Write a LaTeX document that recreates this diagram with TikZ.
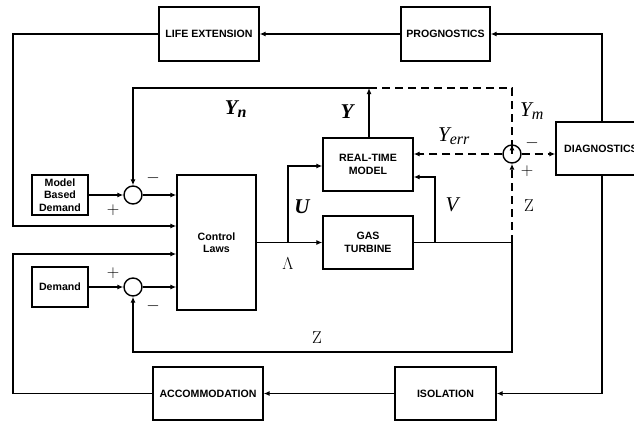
\documentclass[tikz,border=0pt]{standalone}
\usepackage[no-math]{fontspec}
\setmainfont{Liberation Sans}
\newfontfamily\lblfont{Liberation Serif}
\usetikzlibrary{arrows.meta}

\begin{document}
\begin{tikzpicture}[x=1pt, y=-1pt, line width=1.4pt,
  >={Latex[length=6pt,width=5pt]},
  block/.style={draw, align=center, inner sep=1pt, font=\fontsize{10.6}{12.5}\selectfont\bfseries},
  sumpt/.style={draw, circle, inner sep=0pt, minimum size=18pt},
  sig/.style={font=\fontsize{21}{24}\selectfont\lblfont\bfseries\itshape},
  sigthin/.style={font=\fontsize{21}{24}\selectfont\lblfont\itshape},
  sign/.style={font=\fontsize{17}{19}\selectfont},
  dsh/.style={dash pattern=on 8pt off 5pt}]
\clip (0,0) rectangle (634,423);

% Blocks
\node[block, minimum width=100pt, minimum height=54pt] (lifeext) at (209,34) {LIFE EXTENSION};
\node[block, minimum width=89pt, minimum height=54pt] (prog) at (445.5,34) {PROGNOSTICS};
\node[block, minimum width=90pt, minimum height=53pt] (diag) at (601,148.5) {DIAGNOSTICS};
\node[block, minimum width=90pt, minimum height=53pt] (rtm) at (368,164.5) {REAL-TIME\\MODEL};
\node[block, minimum width=90pt, minimum height=53pt] (gt) at (368,242.5) {GAS\\TURBINE};
\node[block, minimum width=79pt, minimum height=135pt] (ctrl) at (216.5,242.5) {Control\\Laws};
\node[block, minimum width=56pt, minimum height=40pt] (mbd) at (60,195) {Model\\Based\\Demand};
\node[block, minimum width=56pt, minimum height=40pt] (dem) at (60,287) {Demand};
\node[block, minimum width=101pt, minimum height=53pt] (isol) at (445.5,393.5) {ISOLATION};
\node[block, minimum width=110pt, minimum height=53pt] (accom) at (208,393.5) {ACCOMMODATION};

% Summing points
\node[sumpt] (sumA) at (133,195) {};
\node[sumpt] (sumB) at (133,287) {};
\node[sumpt] (sumC) at (512,154) {};

% Branch points
\coordinate (ytop) at (369,88);
\coordinate (usplit) at (288,242.5);
\coordinate (vsplit) at (435,242.5);
\coordinate (zsplit) at (512,242.5);
\coordinate (zlow) at (512,352);

% Outer loops
\draw[->] (prog.west) -- (lifeext.east);
\draw[->] (lifeext.west) -- (13,34) -- (13,226) -- (ctrl.west |- 0,226);
\draw[->] (diag.north -| 602,0) -- (602,34) -- (prog.east);
\draw[->] (diag.south -| 602,0) -- (602,393.5) -- (isol.east);
\draw[->] (isol.west) -- (accom.east);
\draw[->] (accom.west) -- (13,393.5) -- (13,254) -- (ctrl.west |- 0,254);

% Demand inputs
\draw[->] (mbd.east) -- (sumA.west);
\draw[->] (sumA.east) -- (ctrl.west |- sumA);
\draw[->] (dem.east) -- (sumB.west);
\draw[->] (sumB.east) -- (ctrl.west |- sumB);

% Plant and model
\draw[->] (ctrl.east) -- (gt.west);
\draw[->] (usplit) -- (288,166) -- (rtm.west |- 0,166);
\draw (gt.east) -- (zsplit);
\draw[->] (vsplit) -- (435,177) -- (rtm.east |- 0,177);
\draw[->] (rtm.north -| ytop) -- (ytop);
\draw[->] (ytop) -- (133,88) -- (sumA.north);
\draw[->] (zsplit) -- (zlow) -- (133,352) -- (sumB.south);

% Residual
\draw[dsh] (ytop) -- (512,88) -- ([yshift=-9pt]sumC.north);
\draw[->] ([yshift=-9pt]sumC.north) -- (sumC.north);
\draw[dsh, ->] (zsplit) -- (sumC.south);
\draw[dsh, ->] (sumC.west) -- (rtm.east |- sumC);
\draw[dsh, ->] (sumC.east) -- (diag.west |- sumC);

% Signal labels
\node[sig] (lblyn) at (236,109) {Y\textsubscript{\fontsize{16}{18}\selectfont n}};
\node[sig] (lbly) at (347,112) {Y};
\node[sigthin] (lblym) at (532,111) {Y\textsubscript{\fontsize{16}{18}\selectfont m}};
\node[sigthin] (lblyerr) at (454,136) {Y\textsubscript{\fontsize{16}{18}\selectfont err}};
\node[sig] (lblu) at (302,207) {U};
\node[sigthin] (lblv) at (452,205) {V};
\node[font=\fontsize{19}{22}\selectfont] (lbllam) at (288,264) {$\Lambda$};
\node[font=\fontsize{19}{22}\selectfont] (lblz) at (529,206) {$\mathrm{Z}$};
\node[font=\fontsize{19}{22}\selectfont] (lblzb) at (317,338) {$\mathrm{Z}$};

% Signs
\node[sign] (sAm) at (153,178) {$-$};
\node[sign] (sAp) at (113,210) {$+$};
\node[sign] (sBp) at (113,273) {$+$};
\node[sign] (sBm) at (153,306) {$-$};
\node[sign] (sCm) at (532,143) {$-$};
\node[sign] (sCp) at (527,171) {$+$};

\end{tikzpicture}
\end{document}
